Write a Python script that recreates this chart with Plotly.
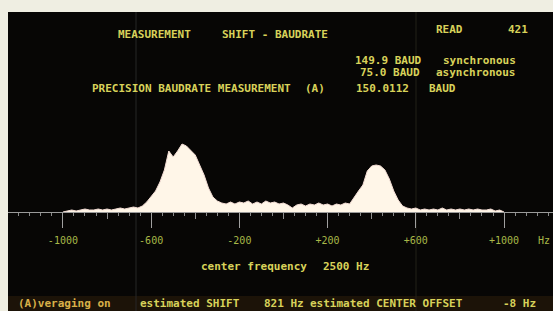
import plotly.graph_objects as go

# ---- data ----
freq_hz = list(range(-1000, 1001, 20))
amplitude = [
    0, 1, 2, 1, 2, 3, 2, 2, 3, 2,          # -1000 .. -820
    3, 2, 3, 4, 3, 4, 5, 4, 6, 10,         # -800 .. -620
    15, 21, 30, 42, 61, 55, 61, 68, 66, 62, # -600 .. -420
    57, 47, 37, 24, 15, 11, 9, 8, 10, 8,   # -400 .. -220
    10, 9, 11, 8, 10, 8, 11, 9, 10, 8,     # -200 .. -20
    9,                                     # 0
    7, 4, 7, 8, 6, 8, 7, 9, 7, 8,          # 20 .. 200
    6, 8, 7, 9, 8, 15, 21, 27, 41, 46,     # 220 .. 400
    47, 46, 42, 33, 21, 12, 6, 4, 3, 4,    # 420 .. 600
    2, 3, 2, 3, 2, 4, 2, 3, 2, 3,          # 620 .. 800
    2, 3, 2, 3, 2, 2, 3, 1, 2, 0,          # 820 .. 1000
]
major_ticks = [-1000, -600, -200, 200, 600, 1000]
major_labels = ["-1000", "-600", "-200", "+200", "+600", "+1000"]
mid_ticks = [-800, -400, 0, 400, 800]

header_texts = [
    (116, 35, "MEASUREMENT"),
    (220, 35, "SHIFT - BAUDRATE"),
    (434, 30, "READ"),
    (506, 30, "421"),
    (353, 60, "149.9 BAUD"),
    (441, 60, "synchronous"),
    (358, 72, "75.0 BAUD"),
    (434, 72, "asynchronous"),
    (90, 88, "PRECISION BAUDRATE MEASUREMENT"),
    (303, 88, "(A)"),
    (354, 88, "150.0112"),
    (427, 88, "BAUD"),
    (199, 266, "center frequency"),
    (321, 266, "2500 Hz"),
    (138, 303, "estimated SHIFT"),
    (262, 303, "821 Hz"),
    (308, 303, "estimated CENTER OFFSET"),
    (501, 303, "-8 Hz"),
]

# ---- geometry ----
W, H = 553, 311
L, T = 8, 12
PW, PH = W - L, H - T


def px(x):
    return (x - L) / PW


def py(y):
    return (H - y) / PH


TXT = "#d8d25a"
FONT = "DejaVu Sans Mono"

fig = go.Figure()
fig.add_trace(go.Scatter(
    x=freq_hz, y=amplitude, mode="lines", fill="tozeroy",
    fillcolor="#fff6e8", line=dict(color="#f2dcd4", width=1),
    hoverinfo="skip", showlegend=False,
))
# second trace only to carry the mid-level ticks on xaxis2
fig.add_trace(go.Scatter(x=[freq_hz[0]], y=[0], xaxis="x2", mode="markers",
                         marker=dict(opacity=0), showlegend=False, hoverinfo="skip"))

x_range = [-1249, 1222]
axis_pos = py(212)

fig.update_layout(
    width=W, height=H,
    margin=dict(l=L, r=0, t=T, b=0),
    paper_bgcolor="#efeee2",
    plot_bgcolor="#070605",
    xaxis=dict(
        range=x_range, anchor="free", position=axis_pos,
        showgrid=False, zeroline=False,
        showline=True, linecolor="#9a9a9a", linewidth=1,
        tickmode="array", tickvals=major_ticks, ticktext=major_labels,
        ticks="outside", ticklen=15, tickcolor="#a0a0a0", tickwidth=1,
        tickfont=dict(family=FONT, size=10, color="#a8b848"),
        ticklabelstandoff=4,
        minor=dict(dtick=50, tick0=0, ticks="outside", ticklen=3,
                   tickcolor="#8a8a8a", tickwidth=1, showgrid=False),
    ),
    xaxis2=dict(
        range=x_range, overlaying="x", anchor="free", position=axis_pos,
        side="bottom", showgrid=False, zeroline=False, showline=False,
        tickmode="array", tickvals=mid_ticks, ticks="outside", ticklen=6,
        tickcolor="#909090", showticklabels=False,
    ),
    yaxis=dict(range=[-99, 200], visible=False, fixedrange=True),
    font=dict(family=FONT),
)

shapes = [
    dict(type="rect", xref="paper", yref="paper", x0=0, x1=1, y0=0, y1=py(296),
         fillcolor="#1c1308", line=dict(width=0), layer="below"),
    dict(type="line", xref="paper", yref="paper", x0=px(136), x1=px(136), y0=0, y1=1,
         line=dict(color="#262626", width=1), layer="below"),
    dict(type="line", xref="paper", yref="paper", x0=px(416), x1=px(416), y0=0, y1=1,
         line=dict(color="#222018", width=1), layer="below"),
]
fig.update_layout(shapes=shapes)

annots = []
for x, y, t in header_texts:
    annots.append(dict(x=px(x), y=py(y), xref="paper", yref="paper", text="<b>%s</b>" % t,
                       showarrow=False, xanchor="left", yanchor="middle",
                       font=dict(family=FONT, size=11, color=TXT)))
annots.append(dict(x=px(16), y=py(303), xref="paper", yref="paper", text="<b>(A)veraging on</b>",
                   showarrow=False, xanchor="left", yanchor="middle",
                   font=dict(family=FONT, size=11, color="#d8b048")))
annots.append(dict(x=px(536), y=py(241), xref="paper", yref="paper", text="Hz",
                   showarrow=False, xanchor="left", yanchor="middle",
                   font=dict(family=FONT, size=10, color="#a8b848")))
fig.update_layout(annotations=annots)

fig.write_html("out.html", config={"displayModeBar": False},
               post_script="document.body.style.margin='0px';document.body.style.padding='0px';")
